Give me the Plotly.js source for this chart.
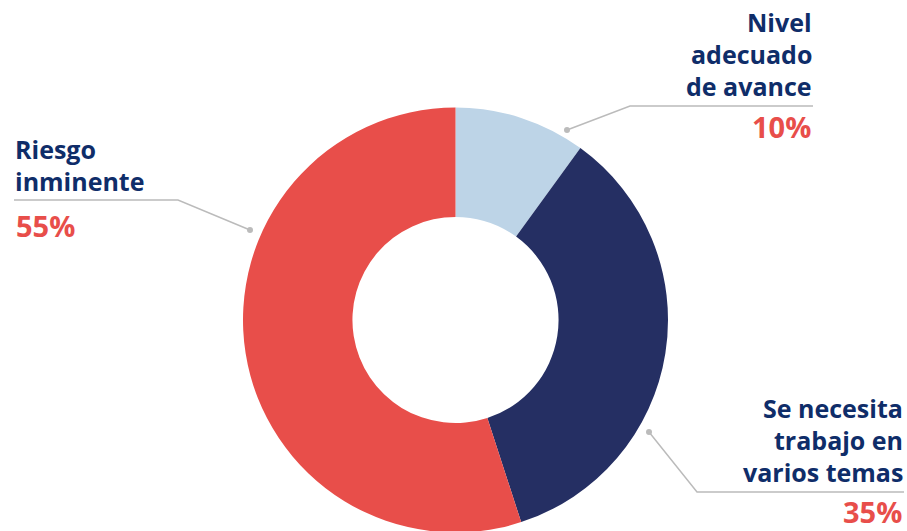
<!DOCTYPE html>
<html>
<head>
<meta charset="utf-8">
<script src="https://cdn.plot.ly/plotly-3.0.1.min.js"></script>
<style>
html,body{margin:0;padding:0;overflow:hidden;background:#fff;width:907px;height:531px;}
#chart{width:907px;height:560px;}
</style>
</head>
<body>
<div id="chart"></div>
<script>
// Data
const categories = ["Nivel adecuado de avance", "Se necesita trabajo en varios temas", "Riesgo inminente"];
const labelLines = [["Nivel", "adecuado", "de avance"], ["Se necesita", "trabajo en", "varios temas"], ["Riesgo", "inminente"]];
const values = [10, 35, 55];
const percentLabels = ["10%", "35%", "55%"];
const colors = ["#BDD4E7", "#252F63", "#E84E4A"];

const W = 907, H = 560;
const px = x => x / W;
const py = y => 1 - y / H;

const navy = "#0F2D69";
const red = "#E84E4A";
const grey = "#BBBBBB";
const fontFam = "'Open Sans', sans-serif";
const labelSize = 25, pctSize = 29;
const ASC = 1.069, DESC = 0.293;

const trace = {
  type: "pie",
  labels: categories,
  values: values,
  hole: 0.485,
  sort: false,
  direction: "clockwise",
  rotation: 0,
  marker: {colors: colors, line: {width: 0}},
  textinfo: "none",
  hoverinfo: "label+percent",
  showlegend: false,
  domain: {x: [px(243), px(668)], y: [py(532.5), py(107.5)]}
};

// place text so that its baseline sits at pixel row `base`
function label(text, x, base, xanchor, color, size) {
  const mid = base - (ASC - DESC) / 2 * size;
  return {text: text, x: px(x), y: py(mid), xref: "paper", yref: "paper",
    xanchor: xanchor, yanchor: "middle", align: xanchor, showarrow: false,
    font: {family: fontFam, size: size, color: color, weight: 700}};
}

const annotations = [];
function block(lines, x, firstBase, step, xanchor) {
  lines.forEach((t, i) => annotations.push(label(t, x, firstBase + i * step, xanchor, navy, labelSize)));
}
block(labelLines[0], 814, 32, 32, "right");
block(labelLines[1], 905, 418, 32, "right");
block(labelLines[2], 13, 159, 32, "left");
annotations.push(label(percentLabels[0], 813, 138, "right", red, pctSize));
annotations.push(label(percentLabels[1], 904, 523, "right", red, pctSize));
annotations.push(label(percentLabels[2], 14, 237, "left", red, pctSize));

function pathP(pts) {
  return pts.map((p, i) => (i ? "L" : "M") + px(p[0]) + "," + py(p[1])).join(" ");
}
function leader(pts) {
  return {type: "path", xref: "paper", yref: "paper", path: pathP(pts),
    line: {color: grey, width: 1.5}};
}
function dot(x, y) {
  const r = 3;
  return {type: "circle", xref: "paper", yref: "paper",
    x0: px(x - r), x1: px(x + r), y0: py(y + r), y1: py(y - r),
    fillcolor: grey, line: {width: 0}};
}

const shapes = [
  leader([[567, 130], [630, 106], [813, 106]]),
  dot(567, 130),
  leader([[649, 432], [697, 492], [904, 492]]),
  dot(649, 432),
  leader([[250, 230], [178, 200], [14, 200]]),
  dot(250, 230)
];

const layout = {
  width: W, height: H,
  margin: {l: 0, r: 0, t: 0, b: 0},
  paper_bgcolor: "#fff",
  plot_bgcolor: "#fff",
  annotations: annotations,
  shapes: shapes
};

Plotly.newPlot("chart", [trace], layout, {displayModeBar: false, staticPlot: true});
</script>
</body>
</html>
